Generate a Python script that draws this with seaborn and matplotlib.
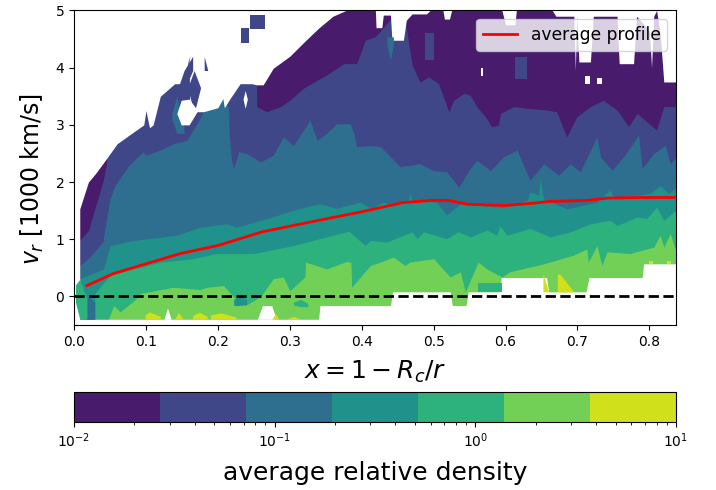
import matplotlib
matplotlib.use('Agg')
import matplotlib.pyplot as plt
from matplotlib.colors import ListedColormap, LogNorm
from matplotlib.cm import ScalarMappable
import pandas as pd
import seaborn as sns

## values ##

# each colour band has an upper edge, given as its own x and v lists
indigo_x = [0.008, 0.02, 0.04, 0.045, 0.046, 0.253, 0.254, 0.268, 0.287, 0.30, 0.319, 0.338, 0.351, 0.375, 0.393,
            0.405, 0.419, 0.44, 0.46, 0.465, 0.47, 0.481, 0.493, 0.50, 0.507, 0.521, 0.528, 0.542, 0.551, 0.56,
            0.572, 0.581, 0.59, 0.593, 0.611, 0.63, 0.657, 0.671, 0.685, 0.699, 0.718, 0.736, 0.755, 0.771, 0.783,
            0.81, 0.82, 0.837]
indigo_v = [0.98, 1.15, 2.0, 2.3, 5, 5, 3.32, 3.23, 3.32, 3.43, 3.64, 3.78, 3.87, 4.07, 4.07,
            4.48, 4.54, 4.85, 4.85, 4.45, 4.05, 3.75, 3.84, 3.78, 3.72, 3.23, 3.43, 3.55, 3.52, 3.32,
            3.14, 2.97, 2.99, 3.2, 3.32, 3.29, 3.26, 3.23, 2.79, 3.14, 3.32, 3.43, 3.26, 2.97, 3.2,
            2.91, 3.32, 3.32]
blue_x = [0.008, 0.02, 0.04, 0.05, 0.057, 0.076, 0.096, 0.10, 0.12, 0.138, 0.157, 0.164, 0.17, 0.18, 0.208,
          0.214, 0.215, 0.216, 0.219, 0.222, 0.229, 0.24, 0.259, 0.277, 0.291, 0.305, 0.328, 0.338, 0.351, 0.365,
          0.384, 0.389, 0.393, 0.412, 0.426, 0.44, 0.453, 0.481, 0.50, 0.518, 0.535, 0.551, 0.56, 0.579, 0.597,
          0.616, 0.634, 0.653, 0.674, 0.69, 0.704, 0.727, 0.732, 0.748, 0.764, 0.785, 0.79, 0.806, 0.822, 0.829,
          0.837]
blue_v = [0.54, 0.66, 0.95, 1.71, 1.94, 2.29, 2.53, 2.47, 2.56, 2.67, 2.73, 2.88, 3.0, 3.23, 3.46,
          3.32, 3.26, 2.79, 2.38, 2.24, 2.53, 2.5, 2.35, 2.47, 2.79, 2.64, 3.08, 2.73, 2.85, 3.02,
          3.02, 2.85, 2.62, 2.64, 2.62, 2.44, 2.27, 2.32, 2.2, 2.18, 1.91, 2.24, 2.38, 2.2, 2.44,
          2.56, 2.03, 2.32, 2.12, 2.32, 2.18, 2.79, 2.44, 2.21, 2.44, 2.82, 2.24, 2.5, 2.64, 2.32,
          2.44]
teal_x = [0.008, 0.041, 0.05, 0.083, 0.143, 0.175, 0.212, 0.226, 0.268, 0.314, 0.342, 0.365, 0.398, 0.412, 0.43,
          0.444, 0.465, 0.467, 0.47, 0.504, 0.518, 0.537, 0.597, 0.63, 0.634, 0.646, 0.648, 0.653, 0.685, 0.727,
          0.745, 0.75, 0.783, 0.801, 0.815, 0.827, 0.837]
teal_v = [0.31, 0.48, 0.89, 0.98, 1.07, 1.21, 1.27, 1.21, 1.36, 1.54, 1.62, 1.54, 1.65, 1.54, 1.65,
          1.59, 1.68, 1.8, 1.68, 1.65, 1.42, 1.62, 1.56, 1.68, 1.83, 1.77, 2.06, 1.71, 1.53, 1.65,
          1.86, 1.74, 1.77, 1.8, 1.94, 1.8, 1.91]
green_x = [0.008, 0.028, 0.029, 0.05, 0.083, 0.12, 0.166, 0.198, 0.25, 0.305, 0.351, 0.382, 0.405, 0.412, 0.435,
           0.458, 0.47, 0.477, 0.486, 0.518, 0.534, 0.551, 0.574, 0.588, 0.592, 0.602, 0.634, 0.662, 0.69, 0.718,
           0.745, 0.755, 0.783, 0.796, 0.81, 0.82, 0.837]
green_v = [-0.5, -0.5, 0.05, 0.37, 0.48, 0.6, 0.66, 0.75, 0.75, 0.89, 1.04, 1.14, 0.89, 0.98, 0.95,
           1.07, 1.13, 1.01, 1.13, 1.01, 1.13, 1.04, 1.16, 1.07, 1.24, 1.07, 1.19, 1.04, 1.13, 1.27,
           1.33, 1.24, 1.39, 1.36, 1.56, 1.33, 1.51]
lime_x = [0.047, 0.048, 0.055, 0.064, 0.087, 0.092, 0.138, 0.175, 0.185, 0.208, 0.222, 0.238, 0.259, 0.277, 0.291,
          0.30, 0.321, 0.322, 0.351, 0.379, 0.385, 0.386, 0.412, 0.426, 0.444, 0.46, 0.467, 0.50, 0.523, 0.537,
          0.544, 0.562, 0.574, 0.595, 0.606, 0.653, 0.694, 0.713, 0.715, 0.727, 0.734, 0.741, 0.773, 0.796, 0.806,
          0.815, 0.82, 0.829, 0.837]
lime_v = [-0.5, -0.4, -0.16, -0.27, -0.04, 0.05, 0.16, 0.12, 0.16, 0.19, -0.01, -0.16, -0.01, 0.31, 0.34,
          0.1, 0.34, 0.6, 0.48, 0.61, 0.6, 0.16, 0.54, 0.6, 0.69, 0.54, 0.6, 0.66, 0.34, 0.43,
          0.08, 0.6, 0.48, 0.34, 0.43, 0.57, 0.72, 0.83, 0.6, 0.89, 0.54, 0.78, 0.75, 0.83, 0.86,
          1.07, 0.86, 1.1, 0.78]

# white area above and below the data
top_x = [0.0, 0.008, 0.008, 0.02, 0.03, 0.04, 0.06, 0.08, 0.097, 0.10, 0.105, 0.11, 0.12, 0.14, 0.153, 0.16, 0.161,
         0.18, 0.20, 0.207, 0.209, 0.217, 0.231, 0.247, 0.254, 0.263, 0.277, 0.30, 0.32, 0.34, 0.36, 0.378, 0.419,
         0.42, 0.428, 0.43, 0.44, 0.442, 0.458, 0.462, 0.47, 0.49, 0.495, 0.513, 0.515, 0.522, 0.525, 0.595, 0.60,
         0.613, 0.615, 0.665, 0.67, 0.695, 0.697, 0.699, 0.702, 0.718, 0.722, 0.755, 0.758, 0.778, 0.782, 0.80, 0.803,
         0.806, 0.81, 0.815, 0.82, 0.837]
top_v = [-0.5, -0.5, 1.53, 2.0, 2.15, 2.32, 2.67, 2.85, 3.0, 3.25, 2.95, 3.0, 3.5, 3.72, 3.72, 4.2, 3.23,
         3.23, 3.3, 3.46, 3.3, 3.46, 3.72, 3.72, 3.7, 3.7, 3.99, 4.2, 4.45, 4.69, 4.9, 5, 5,
         4.7, 4.7, 4.92, 4.92, 4.48, 4.48, 4.83, 4.94, 4.94, 5, 5, 4.85, 4.85, 5, 5, 4.75,
         4.75, 5, 5, 4.9, 4.9, 3.95, 4.9, 4.1, 4.1, 4.9, 4.9, 4.07, 4.07, 4.9, 4.65, 4.0,
         4.9, 5, 4.6, 3.75, 3.75]
bottom_x = [0.0, 0.34, 0.342, 0.44, 0.443, 0.523, 0.526, 0.545, 0.548, 0.592, 0.594, 0.657, 0.66, 0.712, 0.716,
            0.79, 0.792, 0.837]
bottom_v = [-0.4, -0.4, -0.16, -0.16, 0.08, 0.08, -0.16, -0.16, 0.08, 0.08, 0.33, 0.33, 0.08, 0.08, 0.33,
            0.33, 0.57, 0.57]

# average profile
profile_x = [0.018, 0.055, 0.10, 0.148, 0.20, 0.262, 0.34, 0.40, 0.457, 0.50, 0.52, 0.548, 0.60, 0.638, 0.66,
             0.714, 0.742, 0.788, 0.837]
profile_v = [0.19, 0.40, 0.57, 0.75, 0.89, 1.13, 1.33, 1.48, 1.64, 1.68, 1.68, 1.61, 1.59, 1.63, 1.66,
             1.68, 1.72, 1.73, 1.73]

# patches that sit apart from the bands: colour, x, lower v, upper v
patches = [
    ('indigo', [0.245, 0.266], [4.67, 4.67], [4.92, 4.92]),
    ('indigo', [0.232, 0.244], [4.44, 4.44], [4.69, 4.69]),
    ('indigo', [0.158, 0.167, 0.176], [3.65, 3.2, 3.65], [3.65, 3.95, 3.65]),
    ('indigo', [0.142, 0.153, 0.165], [3.55, 3.6, 3.95], [3.55, 3.95, 4.2]),
    ('indigo', [0.181, 0.186], [3.95, 3.95], [4.2, 3.95]),
    ('blue', [0.136, 0.143, 0.153], [3.1, 2.85, 2.85], [3.2, 3.5, 2.95]),
    ('white', [0.143, 0.149, 0.16, 0.172], [3.2, 3.0, 3.0, 3.25], [3.2, 3.43, 3.45, 3.25]),
    ('white', [0.235, 0.238, 0.241], [3.45, 3.29, 3.45], [3.45, 3.6, 3.45]),
    ('white', [0.125, 0.13, 0.135], [-0.4, -0.4, -0.4], [-0.4, -0.2, -0.4]),
    ('white', [0.255, 0.262, 0.275, 0.281], [-0.4, -0.4, -0.4, -0.4], [-0.4, -0.16, -0.16, -0.4]),
    ('blue', [0.435, 0.44, 0.444], [4.4, 4.13, 4.4], [4.54, 4.54, 4.54]),
    ('indigo', [0.488, 0.5], [4.13, 4.13], [4.6, 4.6]),
    ('indigo', [0.613, 0.63], [3.81, 3.81], [4.19, 4.19]),
    ('white', [0.566, 0.569], [3.85, 3.85], [4.0, 4.0]),
    ('white', [0.71, 0.717], [3.72, 3.72], [3.85, 3.85]),
    ('white', [0.727, 0.734], [3.72, 3.72], [3.82, 3.82]),
    ('purple', [0.578, 0.59], [3.0, 3.0], [3.5, 3.5]),
    ('blue', [0.015, 0.02, 0.029], [-0.4, -0.4, -0.4], [-0.1, 0.0, -0.1]),
    ('teal', [0.222, 0.23, 0.24], [-0.16, -0.16, -0.14], [-0.05, 0.0, -0.05]),
    ('green', [0.305, 0.315, 0.325], [-0.15, -0.18, -0.18], [-0.1, -0.05, -0.12]),
    ('green', [0.562, 0.595], [0.08, 0.08], [0.24, 0.24]),
    ('green', [0.002, 0.008, 0.018], [-0.1, -0.4, -0.4], [0.2, 0.3, -0.05]),
    ('yellow', [0.099, 0.105, 0.12], [-0.4, -0.4, -0.4], [-0.32, -0.27, -0.35]),
    ('yellow', [0.14, 0.145, 0.152], [-0.4, -0.4, -0.4], [-0.4, -0.28, -0.4]),
    ('yellow', [0.165, 0.175, 0.185], [-0.4, -0.4, -0.4], [-0.33, -0.28, -0.35]),
    ('yellow', [0.19, 0.205, 0.225], [-0.4, -0.4, -0.4], [-0.32, -0.29, -0.36]),
    ('yellow', [0.275, 0.28, 0.285], [-0.4, -0.4, -0.4], [-0.4, -0.3, -0.4]),
    ('yellow', [0.295, 0.305, 0.315], [-0.4, -0.4, -0.4], [-0.4, -0.35, -0.4]),
    ('yellow', [0.652, 0.66], [0.08, 0.08], [0.4, 0.08]),
    ('yellow', [0.672, 0.675, 0.695], [0.08, 0.08, 0.08], [0.38, 0.4, 0.08]),
    ('yellow', [0.80, 0.805], [0.57, 0.57], [0.62, 0.62]),
    ('yellow', [0.825, 0.83], [0.57, 0.57], [0.62, 0.62]),
]

band_names = ['purple', 'indigo', 'blue', 'teal', 'green', 'lime', 'yellow']
tick_x = [0.0, 0.1, 0.2, 0.3, 0.4, 0.5, 0.6, 0.7, 0.8]
tick_v = [0, 1, 2, 3, 4, 5]

## colours ##

viridis = sns.color_palette('viridis', as_cmap=True)
band_colors = [viridis((i + 0.5) / 7) for i in range(7)]
colors = dict(zip(band_names, band_colors))
colors['white'] = 'white'

## figure ##

W, H = 716, 490
fig = plt.figure(figsize=(W / 100, H / 100), dpi=100)
ax = fig.add_axes([74 / W, 1 - 325 / H, 602 / W, 314.5 / H])

# paint bands from the outside in
ax.fill_between([0.008, 0.837], -0.5, 5, color=colors['purple'], lw=0)
ax.fill_between(indigo_x, -0.5, indigo_v, color=colors['indigo'], lw=0)
ax.fill_between(blue_x, -0.5, blue_v, color=colors['blue'], lw=0)
ax.fill_between(teal_x, -0.5, teal_v, color=colors['teal'], lw=0)
ax.fill_between(green_x, -0.5, green_v, color=colors['green'], lw=0)
ax.fill_between(lime_x, -0.5, lime_v, color=colors['lime'], lw=0)

ax.fill_between(top_x, top_v, 5, color='white', lw=0)
ax.fill_between(bottom_x, -0.5, bottom_v, color='white', lw=0)
for name, px, low, high in patches:
    ax.fill_between(px, low, high, color=colors[name], lw=0)

profile = pd.DataFrame({'x': profile_x, 'v': profile_v})
sns.lineplot(x='x', y='v', data=profile, color='red', lw=2, label='average profile', ax=ax, zorder=5)
ax.axhline(0, color='black', ls='--', lw=2, zorder=4)

ax.set_xlim(0, 0.837)
ax.set_ylim(-0.5, 5)
ax.set_xticks(tick_x)
ax.set_yticks(tick_v)
ax.set_xlabel('$x = 1 - R_c/r$', fontsize=18, labelpad=7)
ax.set_ylabel('$v_r$ [1000 km/s]', fontsize=17, labelpad=7, y=0.465)
ax.legend(loc='upper right', fontsize=12.3)

cax = fig.add_axes([74 / W, 1 - 422 / H, 602 / W, 30 / H])
sm = ScalarMappable(norm=LogNorm(1e-2, 1e1), cmap=ListedColormap(band_colors))
cbar = fig.colorbar(sm, cax=cax, orientation='horizontal')
cbar.set_label('average relative density', fontsize=18, labelpad=8)

fig.savefig('out.png', dpi=100)
